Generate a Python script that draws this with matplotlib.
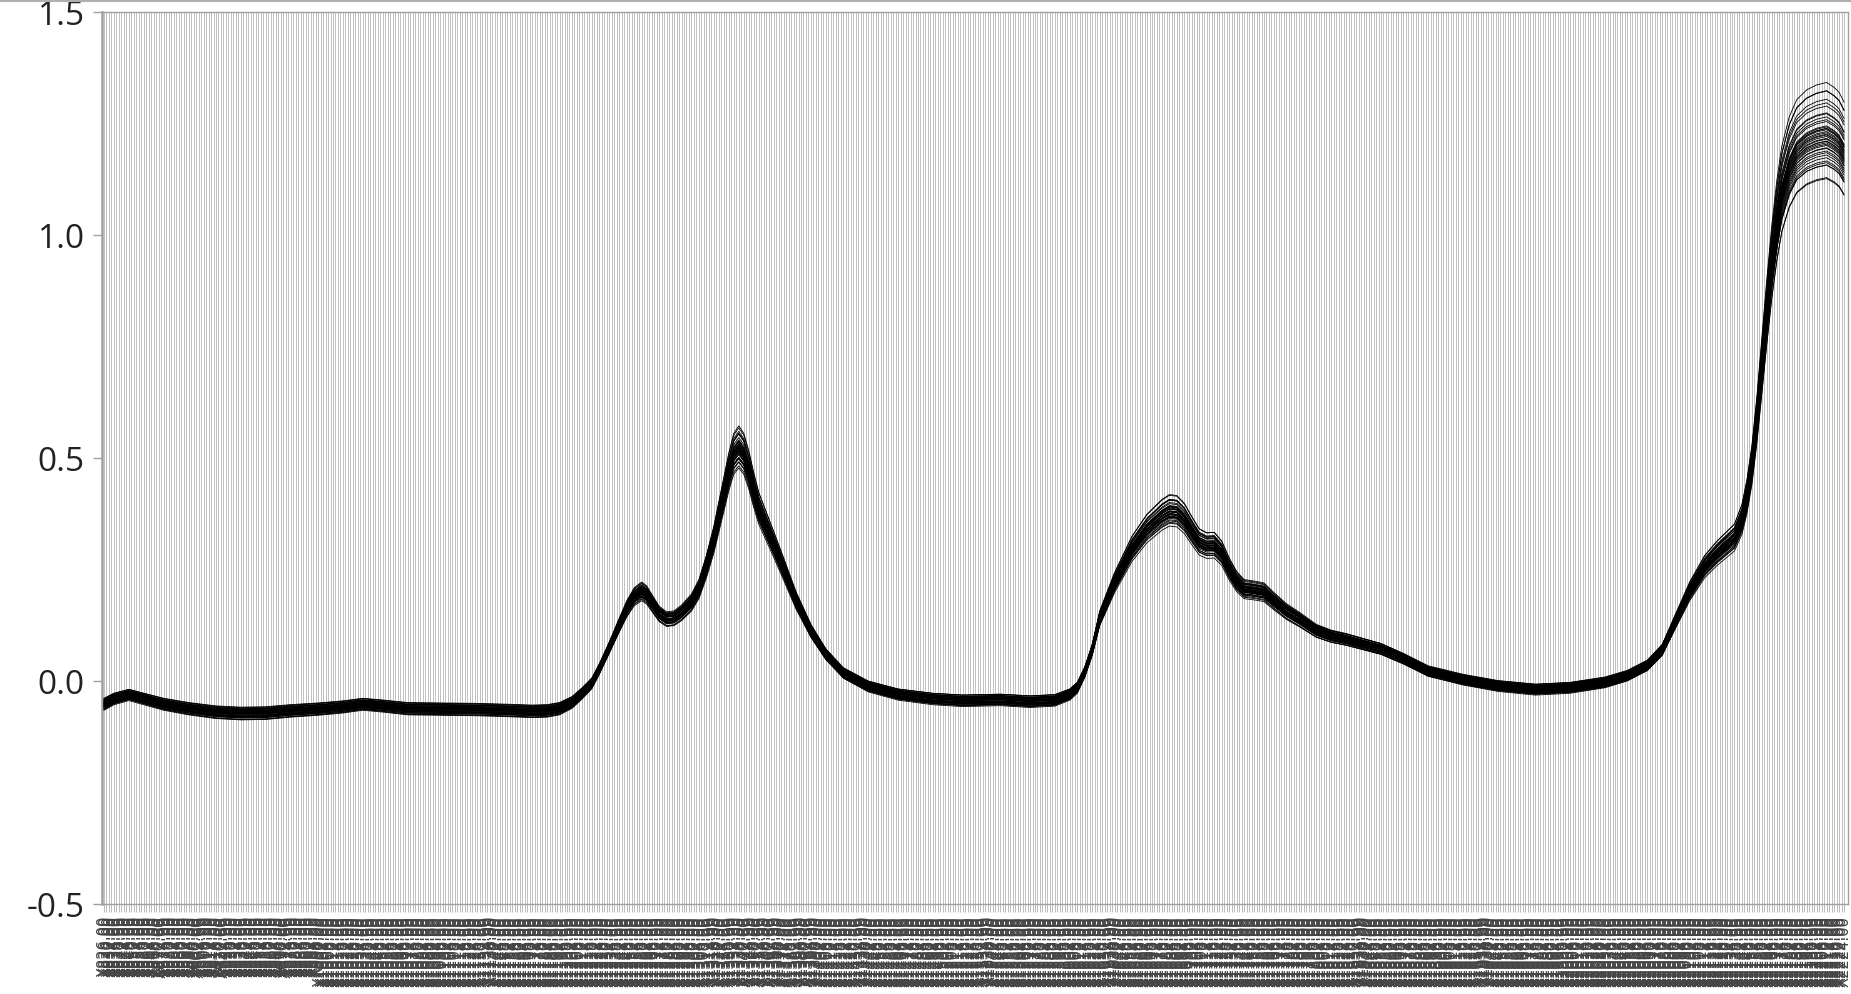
"""Overlaid absorbance spectra drawn as a parallel plot, one grid line per wavelength column."""

import matplotlib

matplotlib.use("Agg")
import matplotlib.pyplot as plt
from matplotlib.lines import Line2D

# wavelength columns (nm), one category per column
wavelengths = list(range(826, 2226, 2))

# mean spectrum read at selected columns (column index -> absorbance)
anchor_cols = [
    0, 4, 10, 16, 24, 34, 45, 55, 65, 75, 86, 96, 104, 112, 122, 135, 150, 162,
    172, 178, 183, 188, 192, 196, 199, 203, 207, 210, 213, 216, 218, 220, 223,
    226, 229, 232, 236, 239, 242, 245, 248, 251, 253, 255, 257, 259, 261, 263,
    266, 269, 273, 278, 284, 290, 297, 307, 319, 333, 345, 360, 372, 382, 388,
    391, 394, 397, 400, 403, 406, 413, 419, 425, 428, 431, 434, 437, 440, 443,
    446, 449, 452, 455, 458, 462, 466, 470, 475, 480, 487, 493, 499, 513, 522,
    532, 546, 560, 575, 589, 603, 612, 620, 626, 631, 637, 643, 648, 652, 655,
    658, 660, 662, 664, 666, 668, 670, 672, 674, 677, 680, 684, 688, 692, 695,
    697, 699,
]
mean_abs = [
    -0.052, -0.040, -0.031, -0.040, -0.052, -0.062, -0.070, -0.073, -0.072,
    -0.067, -0.063, -0.058, -0.052, -0.056, -0.062, -0.063, -0.064, -0.066,
    -0.068, -0.067, -0.062, -0.048, -0.028, -0.005, 0.027, 0.075, 0.125, 0.161,
    0.188, 0.200, 0.192, 0.175, 0.150, 0.138, 0.140, 0.152, 0.175, 0.205, 0.255,
    0.315, 0.390, 0.465, 0.505, 0.520, 0.505, 0.470, 0.425, 0.385, 0.345, 0.305,
    0.250, 0.180, 0.112, 0.060, 0.018, -0.012, -0.030, -0.040, -0.044, -0.042,
    -0.046, -0.043, -0.030, -0.015, 0.020, 0.070, 0.140, 0.180, 0.220, 0.295,
    0.340, 0.370, 0.380, 0.378, 0.362, 0.335, 0.310, 0.302, 0.303, 0.285, 0.250,
    0.222, 0.205, 0.202, 0.198, 0.178, 0.155, 0.138, 0.112, 0.100, 0.093, 0.072,
    0.050, 0.022, 0.003, -0.011, -0.019, -0.015, -0.003, 0.012, 0.035, 0.070,
    0.130, 0.200, 0.255, 0.285, 0.305, 0.320, 0.360, 0.410, 0.480, 0.580, 0.700,
    0.820, 0.930, 1.020, 1.090, 1.150, 1.185, 1.205, 1.215, 1.220, 1.210, 1.200,
    1.180,
]

# per-sample gain and baseline shift relative to the mean spectrum
sample_scale = [
    0.92, 0.93, 0.94, 0.95, 0.95, 0.96, 0.96, 0.97, 0.97, 0.97, 0.98, 0.98,
    0.98, 0.99, 0.99, 0.99, 0.99, 1.00, 1.00, 1.00, 1.00, 1.00, 1.01, 1.01,
    1.01, 1.01, 1.02, 1.02, 1.02, 1.03, 1.03, 1.04, 1.04, 1.05, 1.05, 1.06,
    1.07, 1.08, 1.09, 1.10,
]
sample_offset = [
    0.004, -0.006, 0.010, -0.002, 0.007, -0.009, 0.002, 0.011, -0.004, 0.005,
    -0.011, 0.000, 0.008, -0.007, 0.003, -0.001, 0.009, -0.005, 0.006, -0.010,
    0.001, 0.012, -0.003, 0.004, -0.008, 0.007, -0.002, 0.010, -0.006, 0.002,
    -0.012, 0.005, -0.004, 0.008, -0.009, 0.003, -0.001, 0.006, -0.007, 0.000,
]

y_ticks = [-0.5, 0.0, 0.5, 1.0, 1.5]
y_tick_labels = ["-0.5", "0.0", "0.5", "1.0", "1.5"]

W, H = 1851, 995
fig = plt.figure(figsize=(W / 100, H / 100), dpi=100)
ax = fig.add_axes([102 / W, (H - 905) / H, (1848 - 102) / W, (905 - 13) / H])

n = len(wavelengths)
ax.set_xlim(-0.8, n - 1 + 1.6)
ax.set_ylim(-0.5, 1.5)

for scale, offset in zip(sample_scale, sample_offset):
    ax.plot(anchor_cols, [offset + scale * v for v in mean_abs],
            color="black", linewidth=0.6, zorder=3)

ax.set_xticks(range(n))
ax.set_xticklabels([f"X{w:.2f}" for w in wavelengths], rotation=90,
                   fontsize=10.5, color="#444444", family="DejaVu Sans")
ax.grid(axis="x", color="#c2c2c2", linewidth=0.72, zorder=0)
ax.tick_params(axis="x", length=6, width=0.7, color="#bbbbbb", pad=2)

ax.set_yticks(y_ticks)
ax.set_yticklabels(y_tick_labels, fontsize=24, color="#222222", family="Open Sans")
ax.tick_params(axis="y", length=6.5, width=1.0, color="#a0a0a0", pad=6)

for side in ["left", "right", "top", "bottom"]:
    ax.spines[side].set_color("#a0a0a0")
    ax.spines[side].set_linewidth(1.0)
ax.spines["left"].set_linewidth(1.8)

fig.add_artist(Line2D([0, 1], [1 - 2 / H, 1 - 2 / H], color="#b0b0b0", linewidth=1.5))

fig.savefig("out.png", dpi=100, facecolor="white")
